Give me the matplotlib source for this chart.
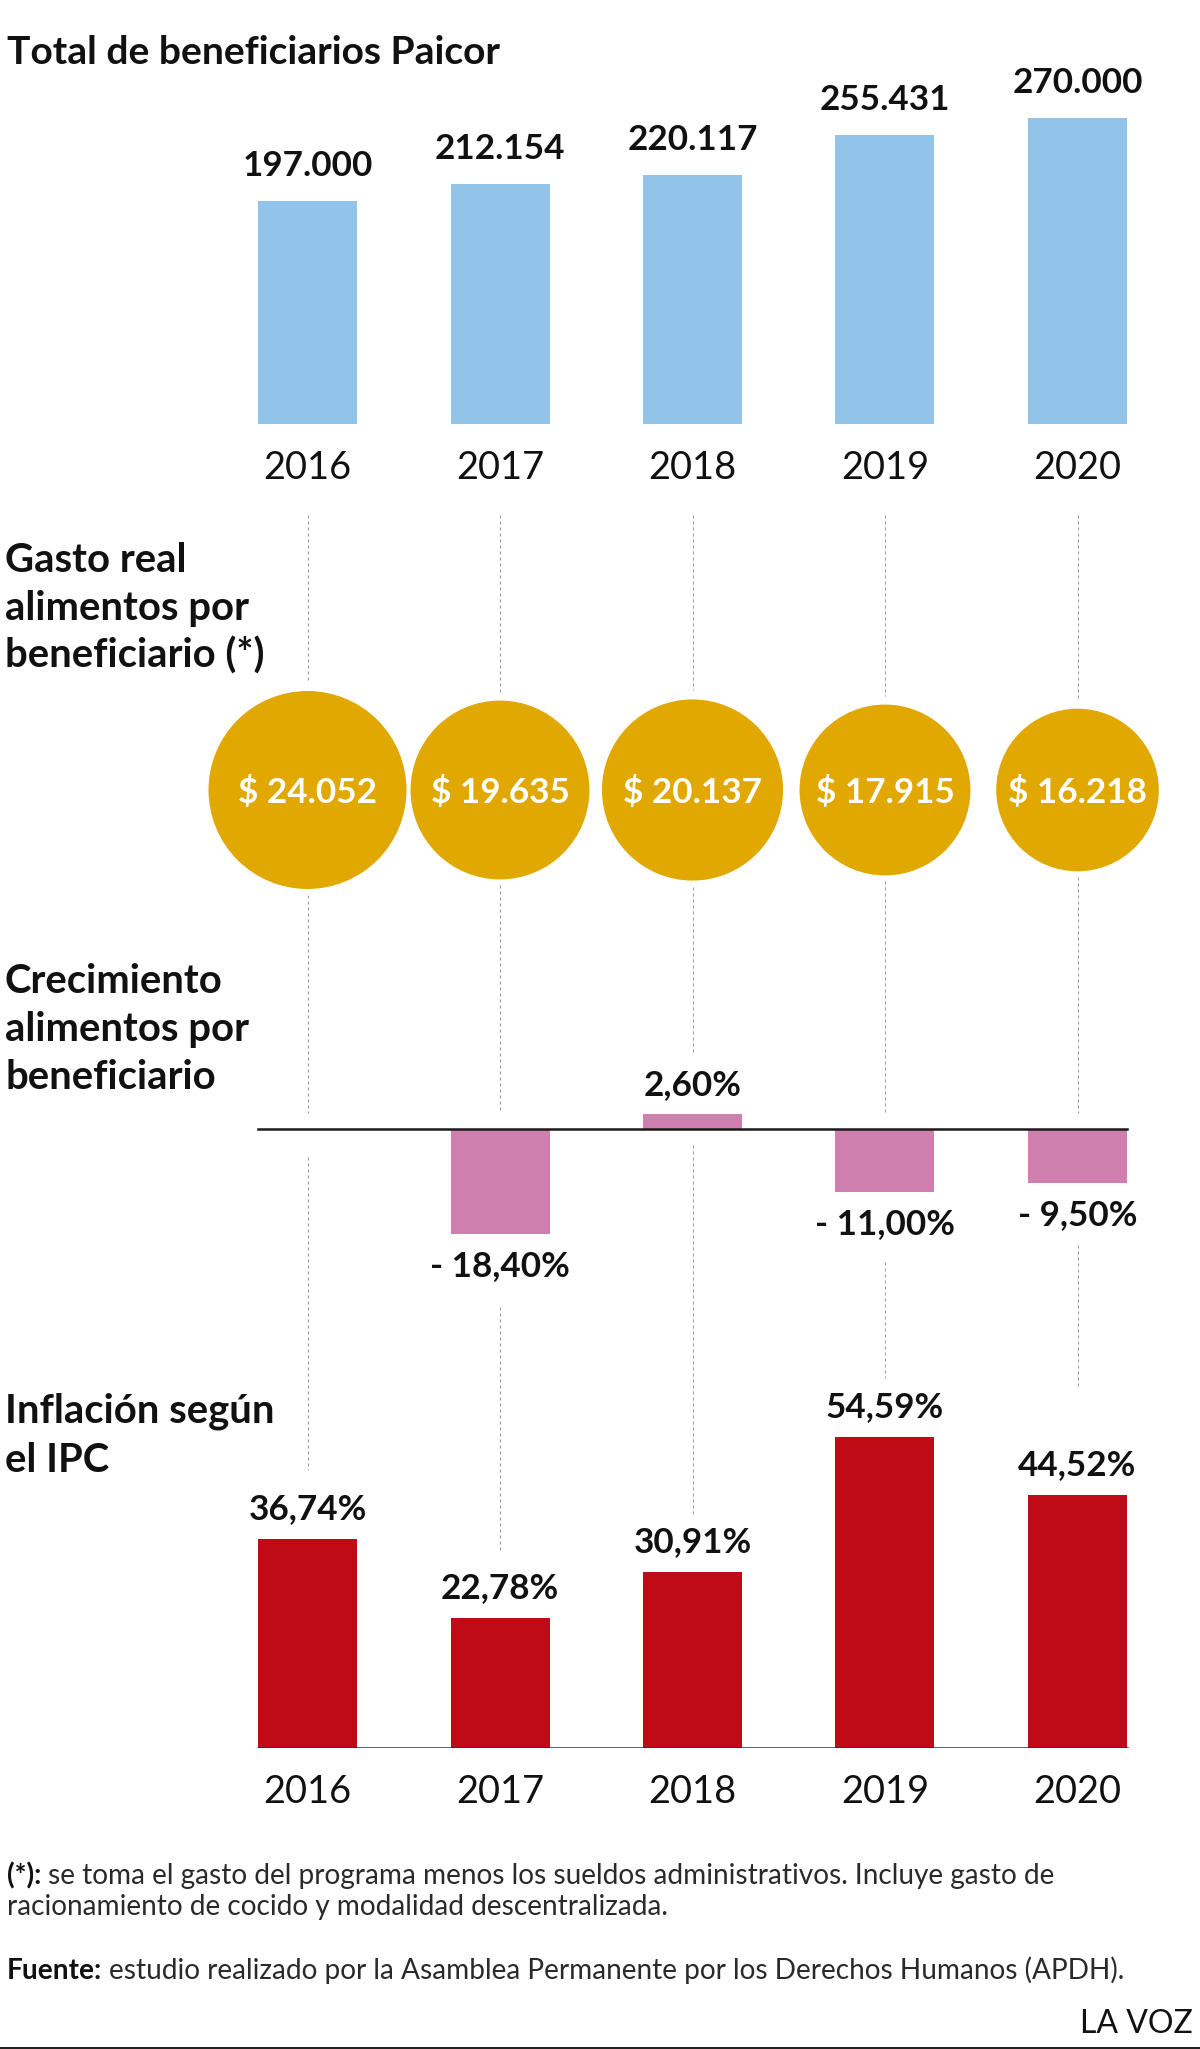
import numpy as np
import matplotlib
matplotlib.use('Agg')
import matplotlib.pyplot as plt
from matplotlib.lines import Line2D

## Data

years = ['2016', '2017', '2018', '2019', '2020']
beneficiarios = [197000, 212154, 220117, 255431, 270000]
gasto_real = [24052, 19635, 20137, 17915, 16218]
crecimiento = [None, -18.40, 2.60, -11.00, -9.50]
inflacion = [36.74, 22.78, 30.91, 54.59, 44.52]

def miles(v):
    return f"{v:,}".replace(",", ".")

def pct(v):
    s = f"{abs(v):.2f}".replace(".", ",") + "%"
    return "- " + s if v < 0 else s

## Layout (pixels, dpi 72 so 1 pt = 1 px)

W, H = 1200, 2049
BLUE, GOLD, PINK, RED = '#92c4ea', '#e0a800', '#cf7fae', '#c00a15'
BOLD = dict(family='Lato', weight='bold', color='#111111')
REG = dict(family='Lato', weight='normal', color='#111111')

fig = plt.figure(figsize=(W / 72, H / 72), dpi=72)
fig.patch.set_facecolor('white')

x = np.arange(len(years))
XL = (-307.5 / 192.5, (W - 307.5) / 192.5)
BAR_W = 99 / 192.5

def panel(top, bottom, ylim):
    ax = fig.add_axes([0, 1 - bottom / H, 1, (bottom - top) / H])
    ax.set_xlim(XL)
    ax.set_ylim(ylim)
    ax.axis('off')
    ax.set_facecolor('none')
    return ax

def label(ax, i, v, txt, off, **kw):
    ax.annotate(txt, xy=(i, v), xytext=(0, off), textcoords='offset points',
                ha='center', va='baseline', annotation_clip=False, **kw)

# dashed guides behind everything
gax = fig.add_axes([0, 0, 1, 1], zorder=0)
gax.set_xlim(XL)
gax.set_ylim(H, 0)
gax.axis('off')

CY, RMAX = 789, 99
radios = RMAX * np.sqrt(np.array(gasto_real) / gasto_real[0])
mid_end = [1113, 1113, 1052, 1113, 1113]
low = [(1157, 1470), (1307, 1552), (1145, 1515), (1262, 1378), (1245, 1387)]
for i in x:
    segs = [(515, CY - radios[i] - 8), (CY + radios[i] + 7, mid_end[i]), low[i]]
    for y0, y1 in segs:
        gax.plot([i, i], [y0, y1], color='#9a9a9a', lw=1, dashes=(3, 3))

# Total de beneficiarios
ben_scale = 306 / 270000
ax1 = panel(100, 424, (0, 324 / ben_scale))
ax1.bar(x, beneficiarios, width=BAR_W, color=BLUE)
for i, v in enumerate(beneficiarios):
    label(ax1, i, v, miles(v), 25, fontsize=35, **BOLD)
    label(ax1, i, 0, years[i], -55, fontsize=38, **REG)

# Gasto real por beneficiario
ax2 = panel(680, 900, (0, 1))
ax2.scatter(x, [0.5] * len(x), s=4 * RMAX ** 2 * np.array(gasto_real) / gasto_real[0],
            color=GOLD, edgecolors='none', zorder=2)
for i, v in enumerate(gasto_real):
    ax2.annotate("$ " + miles(v), xy=(i, 0.5), xytext=(0, -13), textcoords='offset points',
                 ha='center', va='baseline', fontsize=35, family='Lato',
                 weight='bold', color='white', zorder=3)

# Crecimiento alimentos por beneficiario
g_scale = 5.7
ax3 = panel(1000, 1300, (-(1300 - 1129) / g_scale, (1129 - 1000) / g_scale))
for i, v in enumerate(crecimiento):
    if v is None:
        continue
    ax3.bar(i, v, width=BAR_W, color=PINK)
    if v >= 0:
        label(ax3, i, v, pct(v), 19, fontsize=35, **BOLD)
    else:
        label(ax3, i, v, pct(v), -42, fontsize=35, **BOLD)
ax3.plot([x[0] - BAR_W / 2, x[-1] + BAR_W / 2], [0, 0], color='#1a1a1a', lw=2.5)

# Inflacion segun el IPC
i_scale = 5.69
ax4 = panel(1380, 1748, (0, 368 / i_scale))
ax4.bar(x, inflacion, width=BAR_W, color=RED)
for i, v in enumerate(inflacion):
    label(ax4, i, v, pct(v), 20, fontsize=35, **BOLD)
    label(ax4, i, 0, years[i], -55, fontsize=38, **REG)
ax4.plot([x[0] - BAR_W / 2, x[-1] + BAR_W / 2], [0, 0], color='#333333', lw=2.5)

## Titles

def ftext(px, baseline, s, **kw):
    return fig.text(px / W, 1 - baseline / H, s, va='baseline', **kw)

ftext(7, 64, "Total de beneficiarios Paicor", fontsize=39, **BOLD)
for b, s in zip([572, 620, 668], ["Gasto real", "alimentos por", "beneficiario (*)"]):
    ftext(5, b, s, fontsize=40, **BOLD)
for b, s in zip([993, 1041, 1089], ["Crecimiento", "alimentos por", "beneficiario"]):
    ftext(5, b, s, fontsize=40, **BOLD)
for b, s in zip([1423, 1472], ["Inflación según", "el IPC"]):
    ftext(5, b, s, fontsize=40, **BOLD)

## Footnotes

renderer = fig.canvas.get_renderer()

def mixed(baseline, bold, rest):
    t = ftext(7, baseline, bold, fontsize=28, family='Lato', weight='bold', color='#111111')
    bb = t.get_window_extent(renderer)
    ftext(bb.x1 + 7, baseline, rest, fontsize=28, family='Lato', color='#2a2a2a')

mixed(1884, "(*):", "se toma el gasto del programa menos los sueldos administrativos. Incluye gasto de")
ftext(7, 1915, "racionamiento de cocido y modalidad descentralizada.", fontsize=28,
      family='Lato', color='#2a2a2a')
mixed(1979, "Fuente:", "estudio realizado por la Asamblea Permanente por los Derechos Humanos (APDH).")
ftext(1193, 2033, "LA VOZ", fontsize=32, family='Lato', color='#111111', ha='right')

fig.add_artist(Line2D([0, 1], [1.5 / H, 1.5 / H], transform=fig.transFigure,
                      color='#222222', lw=3))

fig.savefig('out.png', dpi=72, facecolor='white')
